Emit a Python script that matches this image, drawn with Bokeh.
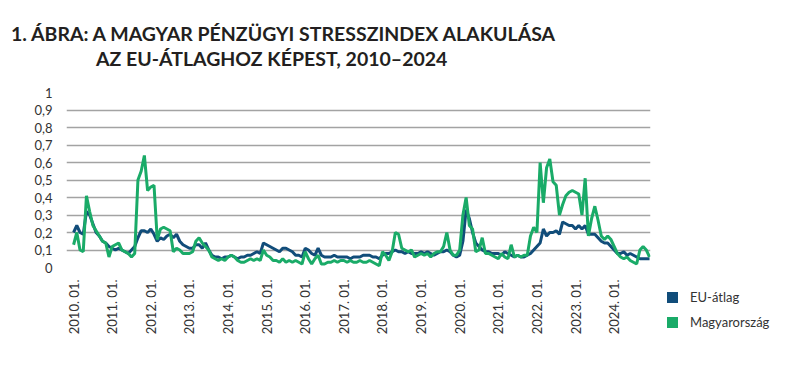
import math
from bokeh.plotting import figure
from bokeh.layouts import row, column
from bokeh.models import Range1d, FixedTicker, Div
from bokeh.embed import file_html
from bokeh.resources import INLINE

# Monthly data, 2010.01 - 2024.12
title_lines = ["1. ÁBRA: A MAGYAR PÉNZÜGYI STRESSZINDEX ALAKULÁSA",
               "AZ EU-ÁTLAGHOZ KÉPEST, 2010–2024"]

tick_labels = ["2010. 01.", "2011. 01.", "2012. 01.", "2013. 01.", "2014. 01.",
               "2015. 01.", "2016. 01.", "2017. 01.", "2018. 01.", "2019. 01.",
               "2020. 01.", "2021. 01.", "2022. 01.", "2023. 01.", "2024. 01."]

eu_atlag = [
    0.20, 0.24, 0.20, 0.19, 0.32, 0.30, 0.25, 0.20, 0.18, 0.15,
    0.14, 0.12, 0.11, 0.10, 0.11, 0.10, 0.09, 0.08, 0.10, 0.12,
    0.17, 0.21, 0.21, 0.20, 0.22, 0.19, 0.15, 0.17, 0.16, 0.18,
    0.19, 0.17, 0.19, 0.15, 0.13, 0.12, 0.11, 0.11, 0.13, 0.13,
    0.11, 0.14, 0.10, 0.07, 0.06, 0.06, 0.05, 0.06, 0.06, 0.07,
    0.06, 0.05, 0.06, 0.06, 0.07, 0.07, 0.08, 0.09, 0.08, 0.14,
    0.13, 0.12, 0.11, 0.10, 0.09, 0.11, 0.11, 0.10, 0.09, 0.07,
    0.07, 0.06, 0.11, 0.10, 0.08, 0.07, 0.11, 0.07, 0.06, 0.06,
    0.06, 0.07, 0.06, 0.06, 0.06, 0.06, 0.05, 0.06, 0.06, 0.06,
    0.07, 0.07, 0.07, 0.06, 0.06, 0.05, 0.07, 0.08, 0.08, 0.09,
    0.10, 0.09, 0.09, 0.08, 0.09, 0.08, 0.08, 0.08, 0.09, 0.08,
    0.09, 0.08, 0.07, 0.08, 0.09, 0.09, 0.10, 0.09, 0.07, 0.06,
    0.07, 0.15, 0.33, 0.28, 0.20, 0.14, 0.12, 0.10, 0.09, 0.09,
    0.08, 0.08, 0.08, 0.07, 0.09, 0.08, 0.07, 0.06, 0.07, 0.06,
    0.06, 0.07, 0.08, 0.10, 0.12, 0.14, 0.22, 0.18, 0.20, 0.20,
    0.21, 0.19, 0.26, 0.25, 0.24, 0.24, 0.22, 0.24, 0.22, 0.24,
    0.19, 0.19, 0.19, 0.17, 0.15, 0.14, 0.14, 0.12, 0.10, 0.08,
    0.08, 0.09, 0.07, 0.08, 0.07, 0.06, 0.05, 0.05, 0.05, 0.05,
]

magyarorszag = [
    0.13, 0.20, 0.10, 0.09, 0.41, 0.32, 0.24, 0.21, 0.18, 0.15,
    0.14, 0.06, 0.12, 0.13, 0.14, 0.10, 0.09, 0.08, 0.06, 0.08,
    0.50, 0.55, 0.64, 0.44, 0.46, 0.47, 0.16, 0.22, 0.23, 0.22,
    0.21, 0.09, 0.11, 0.10, 0.08, 0.08, 0.08, 0.09, 0.15, 0.17,
    0.14, 0.12, 0.10, 0.06, 0.05, 0.04, 0.05, 0.04, 0.06, 0.07,
    0.06, 0.04, 0.03, 0.03, 0.04, 0.05, 0.04, 0.05, 0.04, 0.10,
    0.07, 0.06, 0.04, 0.04, 0.03, 0.05, 0.03, 0.04, 0.03, 0.04,
    0.03, 0.02, 0.09, 0.05, 0.02, 0.05, 0.07, 0.02, 0.02, 0.03,
    0.03, 0.04, 0.03, 0.04, 0.04, 0.03, 0.04, 0.03, 0.03, 0.04,
    0.03, 0.03, 0.04, 0.03, 0.02, 0.01, 0.09, 0.07, 0.04, 0.09,
    0.20, 0.19, 0.11, 0.10, 0.09, 0.10, 0.06, 0.07, 0.08, 0.07,
    0.08, 0.06, 0.08, 0.09, 0.09, 0.12, 0.20, 0.10, 0.07, 0.07,
    0.10, 0.30, 0.40, 0.24, 0.22, 0.09, 0.10, 0.17, 0.08, 0.08,
    0.07, 0.06, 0.05, 0.08, 0.06, 0.05, 0.13, 0.06, 0.07, 0.06,
    0.07, 0.07, 0.18, 0.23, 0.20, 0.60, 0.37, 0.57, 0.62, 0.49,
    0.47, 0.30, 0.36, 0.41, 0.43, 0.44, 0.43, 0.42, 0.30, 0.51,
    0.18, 0.28, 0.35, 0.27, 0.18, 0.16, 0.18, 0.16, 0.12, 0.08,
    0.06, 0.05, 0.06, 0.04, 0.03, 0.02, 0.10, 0.12, 0.10, 0.06,
]

y_ticks = [0, 0.1, 0.2, 0.3, 0.4, 0.5, 0.6, 0.7, 0.8, 0.9, 1]
y_tick_labels = ["0", "0,1", "0,2", "0,3", "0,4", "0,5", "0,6", "0,7", "0,8", "0,9", "1"]
series_names = ["EU-átlag", "Magyarország"]

months = list(range(len(magyarorszag)))
x_ticks = [12 * k for k in range(len(tick_labels))]

BLUE = "#114d7a"
GREEN = "#1aab68"
FONT = "Lato"
TXT = "#333333"
TITLE_H = 80

# ---- title ----
title_div = Div(
    text=(f'<div style="position:relative;width:792px;height:{TITLE_H}px;'
          f'font-family:{FONT};font-weight:700;font-size:19.5px;line-height:1;color:#231f20;">'
          f'<div style="position:absolute;left:11px;top:24px;white-space:nowrap;">{title_lines[0]}</div>'
          f'<div style="position:absolute;left:96px;top:49px;white-space:nowrap;">{title_lines[1]}</div>'
          '</div>'),
    width=792, height=TITLE_H, margin=0)

# ---- chart ----
p = figure(width=660, height=357 - TITLE_H, x_range=Range1d(-2.2, 179.3), y_range=Range1d(0, 1),
           output_backend="svg", toolbar_location=None,
           min_border_left=66, min_border_right=10, min_border_top=92 - TITLE_H,
           min_border_bottom=90, margin=0)
p.title = None
p.outline_line_color = None
p.background_fill_color = "white"
p.border_fill_color = "white"

p.xgrid.visible = False
p.ygrid.ticker = FixedTicker(ticks=y_ticks)
p.ygrid.grid_line_color = "#a3a3a3"
p.ygrid.grid_line_width = 1.5

p.yaxis.ticker = FixedTicker(ticks=y_ticks)
p.yaxis.major_label_overrides = {t: l for t, l in zip(y_ticks, y_tick_labels)}
p.xaxis.ticker = FixedTicker(ticks=x_ticks)
p.xaxis.major_label_overrides = {t: l for t, l in zip(x_ticks, tick_labels)}
p.xaxis.major_label_orientation = math.pi / 2
for ax in (p.xaxis, p.yaxis):
    ax.axis_line_color = None
    ax.major_tick_line_color = None
    ax.minor_tick_line_color = None
    ax.major_tick_out = 0
    ax.major_tick_in = 0
    ax.major_label_text_font = FONT
    ax.major_label_text_font_size = "13px"
    ax.major_label_text_color = TXT
p.yaxis.major_label_standoff = 14
p.xaxis.major_label_standoff = 12

p.line(months, eu_atlag, line_color=BLUE, line_width=3)
p.line(months, magyarorszag, line_color=GREEN, line_width=3)

# ---- legend ----
def legend_row(top, color, label):
    return (f'<div style="position:absolute;left:7px;top:{top}px;height:11px;display:flex;'
            f'align-items:center;white-space:nowrap;">'
            f'<span style="display:inline-block;width:11px;height:11px;background:{color};'
            f'margin-right:12px;"></span><span>{label}</span></div>')

legend_div = Div(
    text=(f'<div style="position:relative;width:132px;height:{357 - TITLE_H}px;'
          f'font-family:{FONT};font-size:13px;color:{TXT};">'
          + legend_row(292 - TITLE_H, BLUE, series_names[0])
          + legend_row(317 - TITLE_H, GREEN, series_names[1])
          + '</div>'),
    width=132, height=357 - TITLE_H, margin=0)

layout = column(title_div, row(p, legend_div, spacing=0), spacing=0)
open("out.html", "w").write(file_html(layout, INLINE))
